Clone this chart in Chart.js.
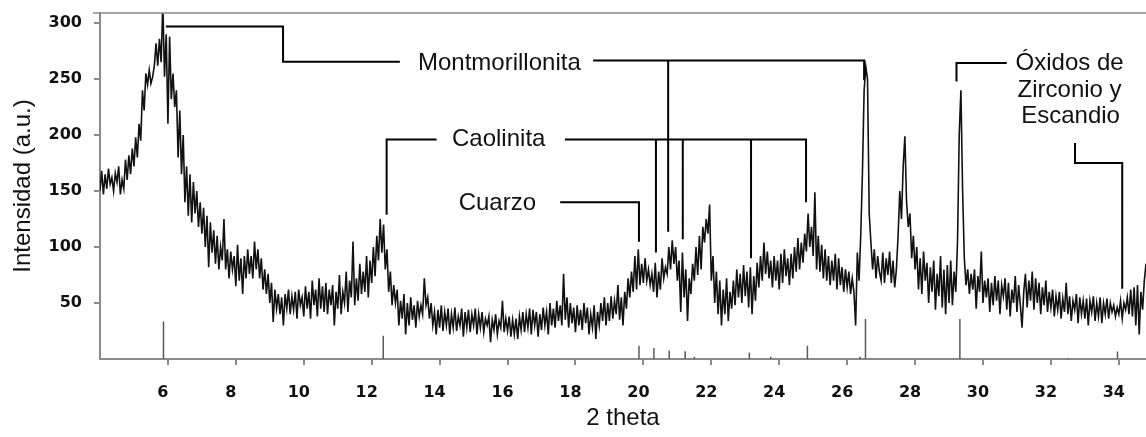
<!DOCTYPE html>
<html>
<head>
<meta charset="utf-8">
<script src="https://cdn.jsdelivr.net/npm/chart.js@4/dist/chart.umd.min.js"></script>
<style>
  html, body { margin: 0; padding: 0; background: #fff; }
  canvas { display: block; }
</style>
</head>
<body>
<canvas id="xrd" width="1146" height="437"></canvas>
<script>
// --- datos del difractograma (paso 0.05 grados, desde 4.00) ---
const thetaStart = 4.0;
const thetaStep = 0.05;
const intensity = [
  150,168,147,165,152,170,156,162,150,166,158,172,147,160,152,178,160,182,165,188,   // 4
  172,198,180,210,195,240,222,255,245,258,246,252,262,282,262,286,265,318,252,290,   // 5
  210,288,232,255,225,240,180,222,165,200,140,172,128,165,122,158,130,150,118,140,   // 6
  112,135,100,128,82,122,95,115,85,110,80,100,88,125,80,98,72,96,80,92,              // 7
  65,102,70,90,58,92,72,98,76,92,72,105,80,98,72,90,62,80,58,76,                     // 8
  50,68,33,62,45,58,40,55,30,58,45,62,40,56,44,60,36,62,48,55,                       // 9
  38,65,45,60,36,70,48,62,38,72,45,65,42,68,40,62,48,66,30,60,                       // 10
  45,75,40,60,50,78,42,70,55,105,48,72,52,85,58,78,60,92,55,88,                      // 11
  68,100,74,110,88,125,95,120,80,98,60,78,48,66,50,62,30,52,36,58,                   // 12
  22,50,30,55,35,48,28,52,38,48,40,72,48,55,36,50,30,42,22,44,                       // 13
  28,48,25,42,30,45,22,40,28,46,25,38,30,45,20,42,28,44,24,40,                       // 14
  30,45,22,40,28,42,24,36,30,38,15,35,26,40,22,34,28,52,24,36,                       // 15
  25,38,20,35,22,36,18,38,26,42,24,40,28,45,22,44,30,42,20,40,                       // 16
  26,46,30,42,22,50,30,45,28,52,34,48,30,76,35,55,28,50,32,46,                       // 17
  24,48,30,44,26,50,32,46,22,40,28,48,18,42,30,50,34,55,30,50,                       // 18
  34,56,36,52,40,66,35,55,30,60,45,72,55,78,60,92,62,98,66,85,                       // 19
  68,90,70,80,66,76,60,86,55,78,62,90,72,82,76,100,80,106,85,100,                    // 20
  70,88,42,95,55,80,34,72,58,85,70,100,75,110,80,118,104,125,112,138,                // 21
  70,92,50,78,40,70,30,62,40,72,34,60,45,70,48,80,55,76,50,84,                       // 22
  56,78,46,82,40,74,52,86,64,92,70,104,76,96,72,88,64,92,70,88,                      // 23
  62,94,68,98,74,90,66,94,72,100,78,108,80,104,86,112,96,130,100,118,                // 24
  92,149,80,110,78,102,72,98,70,92,66,88,70,94,62,90,66,82,60,80,                    // 25
  64,78,58,72,60,30,95,70,110,166,240,261,250,130,104,80,98,72,92,78,                // 26
  70,95,68,90,75,96,68,88,64,80,110,150,125,172,199,140,118,130,90,110,              // 27
  80,100,62,90,58,96,70,86,50,82,60,88,44,76,56,92,46,80,40,84,                      // 28
  50,88,48,78,60,105,200,240,150,90,66,80,58,76,62,80,45,74,60,96,                   // 29
  50,70,55,72,42,68,48,74,52,70,40,66,56,72,44,68,38,62,50,74,                       // 30
  42,66,48,28,60,76,46,70,52,78,44,72,50,68,40,64,48,70,42,60,                       // 31
  46,62,38,56,44,60,36,54,42,68,40,56,34,52,44,58,32,55,40,52,                       // 32
  36,54,30,52,42,56,34,50,38,55,32,50,40,54,36,50,42,48,38,46,                       // 33
  40,52,36,50,44,55,40,62,38,64,30,66,22,60,44,70,85                                 // 34
];

// patrón de referencia (barras finas en la base)
const stickAngles  = [5.87, 12.34, 19.87, 20.31, 20.76, 21.23, 21.5, 23.12, 23.75, 24.83, 26.38, 26.54, 29.32, 32.51, 33.96];
const stickHeights = [33.6, 20.8, 11.9, 9.8, 7.7, 7, 2, 5.9, 2, 11.9, 2, 35.7, 35.7, 1, 6.8];

const xTickValues = [6, 8, 10, 12, 14, 16, 18, 20, 22, 24, 26, 28, 30, 32, 34];
const yTickValues = [50, 100, 150, 200, 250, 300];

// líneas indicadoras de fases (en coordenadas de datos)
const leaderLines = [
  [[5.94, 297], [9.39, 297], [9.39, 265.4], [12.83, 265.4]],
  [[18.52, 266.6], [26.50, 266.6], [26.50, 249]],
  [[20.73, 266.6], [20.73, 113.7]],
  [[13.91, 196], [12.44, 196], [12.44, 128.8]],
  [[17.69, 196], [24.79, 196], [24.79, 140]],
  [[20.37, 196], [20.37, 95]],
  [[21.16, 196], [21.16, 107]],
  [[23.17, 196], [23.17, 90]],
  [[17.55, 140], [19.87, 140], [19.87, 104.8]],
  [[30.70, 264.3], [29.22, 264.3], [29.22, 247.9]],
  [[32.71, 192.9], [32.71, 175], [34.10, 175], [34.10, 62.8]]
];

const phaseLabels = [
  { text: 'Montmorillonita', x: 15.76, y: 263.7 },
  { text: 'Caolinita', x: 15.74, y: 195.8 },
  { text: 'Cuarzo', x: 15.70, y: 139.1 },
  { text: 'Óxidos de', x: 32.55, y: 264.3 },
  { text: 'Zirconio y', x: 32.55, y: 239.8 },
  { text: 'Escandio', x: 32.58, y: 216.6 }
];

const FONT = '"Liberation Sans", Arial, sans-serif';
const AXIS_GRAY = '#8a8a8a';

// construir series para Chart.js
const patternPoints = intensity.map((v, i) => ({ x: +(thetaStart + i * thetaStep).toFixed(2), y: v }));

const stickPoints = [];
stickAngles.forEach((a, i) => {
  stickPoints.push({ x: a, y: 0 }, { x: a, y: stickHeights[i] }, { x: a, y: null });
});

const leaderPoints = [];
leaderLines.forEach(line => {
  line.forEach(p => leaderPoints.push({ x: p[0], y: p[1] }));
  leaderPoints.push({ x: line[line.length - 1][0], y: null });
});

const frameAndLabels = {
  id: 'frameAndLabels',
  afterDatasetsDraw(chart) {
    const { ctx, chartArea, scales: { x, y } } = chart;
    ctx.save();
    ctx.strokeStyle = AXIS_GRAY;
    ctx.lineWidth = 1.5;
    ctx.beginPath();
    ctx.moveTo(chartArea.left - 7, chartArea.top);
    ctx.lineTo(chartArea.right, chartArea.top);
    ctx.stroke();

    ctx.fillStyle = '#111';
    ctx.font = '24px ' + FONT;
    ctx.textAlign = 'center';
    ctx.textBaseline = 'middle';
    phaseLabels.forEach(l => ctx.fillText(l.text, x.getPixelForValue(l.x), y.getPixelForValue(l.y)));
    ctx.restore();
  }
};

new Chart(document.getElementById('xrd').getContext('2d'), {
  type: 'line',
  data: {
    datasets: [
      {
        label: 'Difractograma',
        data: patternPoints,
        borderColor: '#111',
        borderWidth: 1.6,
        pointRadius: 0,
        tension: 0
      },
      {
        label: 'Referencia',
        data: stickPoints,
        borderColor: '#5a5a5a',
        borderWidth: 1.5,
        pointRadius: 0,
        spanGaps: false
      },
      {
        label: 'Fases',
        data: leaderPoints,
        borderColor: '#000',
        borderWidth: 2,
        pointRadius: 0,
        spanGaps: false
      }
    ]
  },
  options: {
    responsive: false,
    animation: false,
    devicePixelRatio: 1,
    layout: { padding: { top: 13, right: 0, left: 0, bottom: 0 } },
    plugins: {
      legend: { display: false },
      tooltip: { enabled: false }
    },
    scales: {
      x: {
        type: 'linear',
        min: 4,
        max: 34.8,
        afterBuildTicks: s => { s.ticks = xTickValues.map(v => ({ value: v })); },
        afterFit: s => { s.height = 78; s.paddingLeft = 0; s.paddingRight = 0; },
        border: { color: AXIS_GRAY, width: 2 },
        grid: { drawOnChartArea: false, drawTicks: true, tickLength: 6, tickColor: AXIS_GRAY, lineWidth: 2 },
        ticks: {
          color: '#111',
          padding: 18,
          labelOffset: -5,
          maxRotation: 0,
          font: { family: '"DejaVu Sans", sans-serif', size: 16, weight: 'bold' }
        },
        title: {
          display: true,
          text: '2 theta',
          color: '#111',
          font: { family: FONT, size: 24 },
          padding: { top: 4, bottom: 4 }
        }
      },
      y: {
        min: 0,
        max: 309,
        afterBuildTicks: s => { s.ticks = yTickValues.map(v => ({ value: v })); },
        afterFit: s => { s.width = 100; s.paddingTop = 0; s.paddingBottom = 0; },
        border: { color: AXIS_GRAY, width: 2 },
        grid: { drawOnChartArea: false, drawTicks: true, tickLength: 6, tickColor: AXIS_GRAY, lineWidth: 2 },
        ticks: {
          color: '#111',
          padding: 12,
          font: { family: '"DejaVu Sans", sans-serif', size: 16, weight: 'bold' }
        },
        title: {
          display: true,
          text: 'Intensidad (a.u.)',
          color: '#111',
          font: { family: FONT, size: 24 },
          padding: { top: 9, bottom: 0 }
        }
      }
    }
  },
  plugins: [frameAndLabels]
});
</script>
</body>
</html>
